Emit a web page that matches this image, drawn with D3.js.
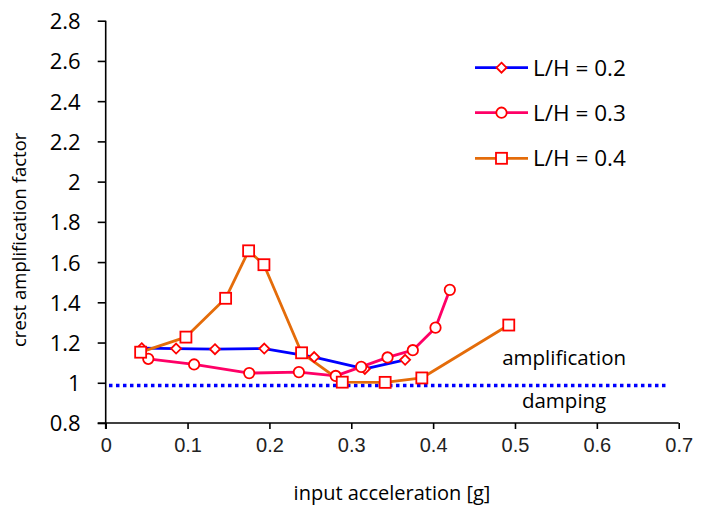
<!DOCTYPE html>
<html><head><meta charset="utf-8">
<script src="https://cdn.jsdelivr.net/npm/d3@7"></script>
<style>body{margin:0;background:#fff}</style>
</head><body>
<svg id="c" width="708" height="507"></svg>
<script>
const xTicks = [0,0.1,0.2,0.3,0.4,0.5,0.6,0.7];
const yTicks = [0.8,1,1.2,1.4,1.6,1.8,2,2.2,2.4,2.6,2.8];
const seriesNames = ["L/H = 0.2","L/H = 0.3","L/H = 0.4"];
const lh02x = [0.044,0.086,0.1335,0.1937,0.2547,0.3166,0.3658];
const lh02y = [1.172,1.170,1.167,1.170,1.128,1.069,1.114];
const lh03x = [0.052,0.108,0.1753,0.236,0.281,0.3121,0.3443,0.3752,0.4029,0.4204];
const lh03y = [1.119,1.091,1.048,1.053,1.034,1.079,1.126,1.162,1.274,1.462];
const lh04x = [0.0427,0.098,0.1465,0.1746,0.1933,0.2393,0.289,0.3414,0.3862,0.4924];
const lh04y = [1.152,1.227,1.42,1.656,1.587,1.149,1.003,1.002,1.024,1.287];
const damping = {x0:0.004, x1:0.686, y:0.987};

const svg = d3.select("#c");
const x = d3.scaleLinear().domain([0,0.7]).range([105.7,678.7]);
const y = d3.scaleLinear().domain([0.8,2.8]).range([423,20.7]);

const colors = ["#0000ff","#ff0066","#e46c0a"];
const shapes = ["diamond","circle","square"];
const data = [
  lh02x.map((v,i)=>[v,lh02y[i]]),
  lh03x.map((v,i)=>[v,lh03y[i]]),
  lh04x.map((v,i)=>[v,lh04y[i]])
];

// axes
const xa = svg.append("g").attr("transform",`translate(0,${y(0.8)})`)
  .call(d3.axisBottom(x).tickValues(xTicks).tickSize(6).tickFormat(d=>d===0?"0":d3.format(".1f")(d)));
xa.select(".domain").attr("stroke","#000").attr("stroke-width",1.6).attr("d",`M${x(0)-8},0H${x(0.7)}`);
xa.selectAll(".tick line").attr("stroke","#000").attr("stroke-width",1.6);
xa.selectAll(".tick text").attr("font-family","Liberation Sans, Arial, sans-serif").attr("font-size",20).attr("fill","#222").attr("dy","1.0em");

const ya = svg.append("g").attr("transform",`translate(${x(0)},0)`)
  .call(d3.axisLeft(y).tickValues(yTicks).tickSize(8).tickFormat(d=>d3.format("~g")(d)));
ya.select(".domain").attr("stroke","#000").attr("stroke-width",1.6).attr("d",`M0,${y(2.8)}V${y(0.8)+6}`);
ya.selectAll(".tick line").attr("stroke","#000").attr("stroke-width",1.6);
ya.selectAll(".tick text").attr("font-family","Open Sans, sans-serif").attr("font-size",22).attr("fill","#000").attr("x",-25).attr("dy","0.36em");

// damping line
svg.append("line").attr("x1",x(damping.x0)).attr("x2",x(damping.x1))
  .attr("y1",y(damping.y)).attr("y2",y(damping.y))
  .attr("stroke","#0000ff").attr("stroke-width",3.5).attr("stroke-dasharray","3.5,3.5");

svg.append("text").attr("x",x(0.56)).attr("y",365).attr("text-anchor","middle")
  .attr("font-family","Open Sans, sans-serif").attr("font-size",20.5).text("amplification");
svg.append("text").attr("x",x(0.56)).attr("y",408).attr("text-anchor","middle")
  .attr("font-family","Open Sans, sans-serif").attr("font-size",20.5).text("damping");

function marker(g, shape, cx, cy){
  if(shape==="diamond"){
    g.append("path").attr("d",`M${cx},${cy-5}L${cx+5},${cy}L${cx},${cy+5}L${cx-5},${cy}Z`)
     .attr("fill","#fff").attr("stroke","#ff0000").attr("stroke-width",1.8);
  } else if(shape==="circle"){
    g.append("circle").attr("cx",cx).attr("cy",cy).attr("r",5.2)
     .attr("fill","#fff").attr("stroke","#ff0000").attr("stroke-width",1.8);
  } else {
    g.append("rect").attr("x",cx-5.5).attr("y",cy-5.5).attr("width",11).attr("height",11)
     .attr("fill","#fff").attr("stroke","#ff0000").attr("stroke-width",1.8);
  }
}

const line = d3.line().x(d=>x(d[0])).y(d=>y(d[1]));
data.forEach((s,i)=>{
  svg.append("path").datum(s).attr("d",line).attr("fill","none")
    .attr("stroke",colors[i]).attr("stroke-width",2.8).attr("stroke-linejoin","round");
});
data.forEach((s,i)=>{
  const g = svg.append("g");
  s.forEach(d=>marker(g,shapes[i],x(d[0]),y(d[1])));
});

// legend
const legY = [67.7,112.7,158.3];
seriesNames.forEach((n,i)=>{
  const g = svg.append("g");
  g.append("line").attr("x1",475).attr("x2",528).attr("y1",legY[i]).attr("y2",legY[i])
    .attr("stroke",colors[i]).attr("stroke-width",2.8);
  marker(g,shapes[i],501.5,legY[i]);
  g.append("text").attr("x",533).attr("y",legY[i]+8).attr("font-family","Open Sans, sans-serif")
    .attr("font-size",22.5).text(n);
});

// axis titles
svg.append("text").attr("x",392).attr("y",500).attr("text-anchor","middle")
  .attr("font-family","Open Sans, sans-serif").attr("font-size",20).text("input acceleration [g]");
svg.append("text").attr("transform",`translate(26,${(y(0.8)+y(2.8))/2 + 18}) rotate(-90)`)
  .attr("text-anchor","middle").attr("font-family","Open Sans, sans-serif").attr("font-size",18.5)
  .text("crest amplification factor");
</script>
</body></html>
